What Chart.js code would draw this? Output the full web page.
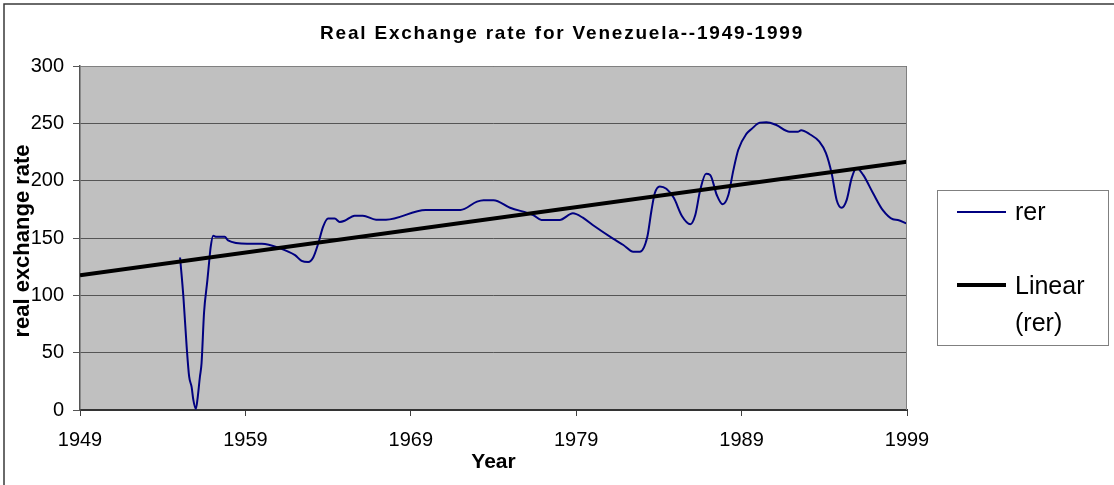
<!DOCTYPE html>
<html>
<head>
<meta charset="utf-8">
<script src="https://cdn.jsdelivr.net/npm/chart.js@4.4.1/dist/chart.umd.min.js"></script>
<style>
  html, body { margin: 0; padding: 0; background: #fff; }
  #wrap { position: relative; width: 1114px; height: 485px; }
</style>
</head>
<body>
<div id="wrap"><canvas id="c"></canvas></div>
<script>
// ---- data ----
const chartTitle = 'Real Exchange rate for Venezuela--1949-1999';
const xTitle = 'Year';
const yTitle = 'real exchange rate';
const seriesName = 'rer';
const trendName = 'Linear (rer)';

const rerYears = [
  1955.05, 1955.25, 1955.45, 1955.6, 1955.75, 1955.85, 1956.0, 1956.1, 1956.25, 1956.35,
  1956.5, 1956.7, 1956.8, 1956.9, 1957.05, 1957.25, 1957.75, 1957.95, 1959.1, 1960.0,
  1961.1, 1962.0, 1962.4, 1962.8, 1963.1, 1963.4, 1963.7, 1964.0, 1964.4, 1964.7,
  1965.0, 1965.6, 1966.1, 1966.9, 1967.5, 1969.9, 1972.0, 1973.0, 1973.4, 1974.0,
  1975.0, 1976.4, 1976.9, 1978.0, 1978.8, 1979.4, 1980.0, 1981.2, 1981.85, 1982.45,
  1982.85, 1983.3, 1983.55, 1983.75, 1984.05, 1984.45, 1984.9, 1985.4, 1985.9, 1986.2,
  1986.5, 1986.85, 1987.1, 1987.5, 1987.85, 1988.2, 1988.5, 1988.8, 1989.3, 1989.6,
  1990.1, 1990.5, 1991.1, 1991.9, 1992.4, 1992.6, 1993.1, 1993.7, 1994.1, 1994.45,
  1994.75, 1995.05, 1995.35, 1995.65, 1995.95, 1996.35, 1996.95, 1997.55, 1998.15, 1998.45,
  1998.95
];
const rerValues = [
  133, 99, 55, 29, 20, 9, 1, 9, 29, 41,
  85, 113, 128, 142, 152, 151, 151, 148, 145, 145,
  141, 135, 130, 129, 133, 145, 160, 167, 167, 164,
  165, 169.5, 169.5, 166, 166, 174.4, 174.4, 181.7, 183, 183,
  176.4, 170, 165.7, 165.7, 171.5, 167.7, 161.3, 149.7, 143.9, 138,
  138, 151, 174, 189, 195, 193, 185, 169, 162, 170,
  192, 206, 205, 187.5, 179.4, 187.5, 209, 227, 241, 245,
  250.6, 251, 248.5, 242.7, 242.7, 244, 240.7, 234, 224, 206,
  183, 176.4, 183, 202, 211, 205, 189, 174, 166.3, 165.7,
  162.8
];
const trendYears = [1949, 1999];
const trendValues = [117.5, 216.5];
const xTickValues = [1949, 1959, 1969, 1979, 1989, 1999];
const yMin = 0, yMax = 300, yStep = 50;

// ---- helpers ----
const FONT = '"Liberation Sans", Arial, sans-serif';

const decor = {
  id: 'decor',
  beforeDraw(chart) {
    const { ctx, chartArea: a } = chart;
    ctx.save();
    ctx.fillStyle = '#ffffff';
    ctx.fillRect(0, 0, chart.width, chart.height);
    ctx.fillStyle = '#C0C0C0';
    ctx.fillRect(a.left, a.top, a.right - a.left, a.bottom - a.top);
    // outer chart frame (left and top visible)
    ctx.strokeStyle = '#3a3a3a';
    ctx.lineWidth = 1.5;
    ctx.beginPath();
    ctx.moveTo(4, chart.height);
    ctx.lineTo(4, 4);
    ctx.lineTo(chart.width, 4);
    ctx.stroke();
    ctx.restore();
  },
  afterDraw(chart) {
    const { ctx, chartArea: a } = chart;
    ctx.save();
    // plot area border (top + right)
    ctx.strokeStyle = '#808080';
    ctx.lineWidth = 1;
    ctx.beginPath();
    ctx.moveTo(a.left, a.top + 0.5);
    ctx.lineTo(a.right - 0.5, a.top + 0.5);
    ctx.lineTo(a.right - 0.5, a.bottom);
    ctx.stroke();

    // title
    ctx.fillStyle = '#000';
    ctx.font = 'bold 19px ' + FONT;
    ctx.textAlign = 'center';
    ctx.textBaseline = 'middle';
    try { ctx.letterSpacing = '1.8px'; } catch (e) {}
    ctx.fillText(chartTitle, 562, 34);
    try { ctx.letterSpacing = '0px'; } catch (e) {}

    // x axis title
    ctx.font = 'bold 21px ' + FONT;
    ctx.fillText(xTitle, (a.left + a.right) / 2, 462);

    // y axis title
    ctx.save();
    ctx.translate(23, (a.top + a.bottom) / 2 + 3);
    ctx.rotate(-Math.PI / 2);
    ctx.font = 'bold 22px ' + FONT;
    ctx.fillText(yTitle, 0, 0);
    ctx.restore();

    // legend
    const ds = chart.data.datasets;
    ctx.strokeStyle = '#808080';
    ctx.lineWidth = 1;
    ctx.strokeRect(937.5, 190.5, 171, 155);
    ctx.textAlign = 'left';
    ctx.font = '25px ' + FONT;
    // series
    ctx.strokeStyle = ds[0].borderColor;
    ctx.lineWidth = ds[0].borderWidth;
    ctx.beginPath(); ctx.moveTo(957, 212); ctx.lineTo(1006, 212); ctx.stroke();
    ctx.fillStyle = '#000';
    ctx.fillText(ds[0].label, 1015, 213);
    // trend
    ctx.strokeStyle = ds[1].borderColor;
    ctx.lineWidth = ds[1].borderWidth;
    ctx.beginPath(); ctx.moveTo(957, 285); ctx.lineTo(1006, 285); ctx.stroke();
    const parts = ds[1].label.split(' ');
    ctx.fillText(parts[0], 1015, 287);
    ctx.fillText(parts.slice(1).join(' '), 1015, 324);
    ctx.restore();
  }
};

new Chart(document.getElementById('c'), {
  type: 'line',
  data: {
    datasets: [
      {
        label: seriesName,
        data: rerYears.map((x, i) => ({ x, y: rerValues[i] })),
        borderColor: '#000080',
        borderWidth: 2,
        pointRadius: 0,
        cubicInterpolationMode: 'monotone',
        fill: false,
        order: 1
      },
      {
        label: trendName,
        data: trendYears.map((x, i) => ({ x, y: trendValues[i] })),
        borderColor: '#000000',
        borderWidth: 4,
        pointRadius: 0,
        fill: false,
        order: 0
      }
    ]
  },
  options: {
    responsive: true,
    maintainAspectRatio: false,
    animation: false,
    layout: { padding: { left: 0, top: 66, right: 207, bottom: 0 } },
    plugins: {
      legend: { display: false },
      title: { display: false },
      tooltip: { enabled: false }
    },
    scales: {
      x: {
        type: 'linear',
        min: xTickValues[0],
        max: xTickValues[xTickValues.length - 1],
        afterBuildTicks: (axis) => { axis.ticks = xTickValues.map(v => ({ value: v })); },
        afterFit: (scale) => { scale.height = 75; },
        grid: { drawOnChartArea: false, drawTicks: true, tickLength: 6, color: '#404040', lineWidth: 1 },
        border: { color: '#333333', width: 2 },
        ticks: {
          color: '#000',
          font: { family: FONT, size: 20 },
          padding: 12,
          maxRotation: 0,
          autoSkip: false,
          callback: (v) => String(v)
        }
      },
      y: {
        min: yMin,
        max: yMax,
        afterFit: (scale) => { scale.width = 80; },
        grid: { color: '#555555', lineWidth: 1, drawTicks: true, tickLength: 7 },
        border: { color: '#555555', width: 1.5 },
        ticks: {
          stepSize: yStep,
          color: '#000',
          font: { family: FONT, size: 20 },
          padding: 9,
          callback: (v) => String(v)
        }
      }
    }
  },
  plugins: [decor]
});
</script>
</body>
</html>
